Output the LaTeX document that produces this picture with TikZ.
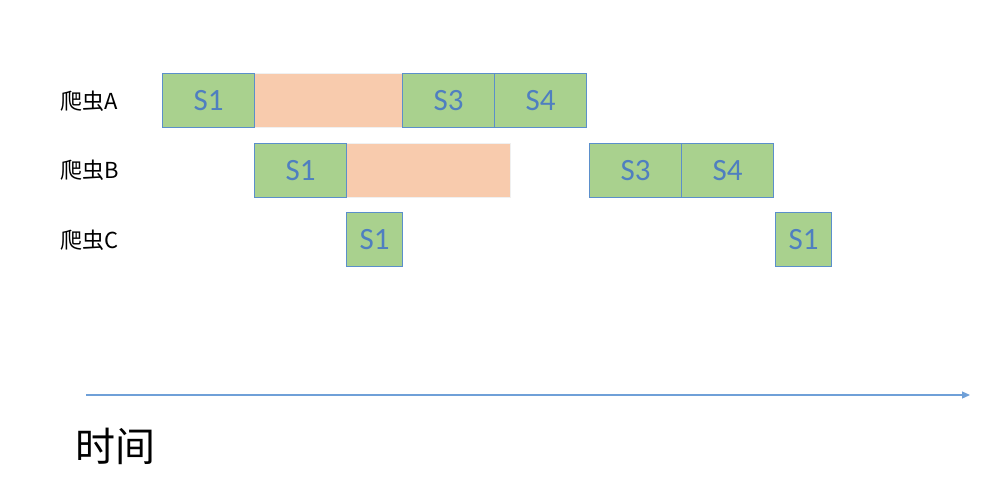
\documentclass[tikz,border=0pt]{standalone}
\usepackage{fontspec}
\setmainfont{Carlito}
\newfontfamily\cjk{Noto Sans CJK SC}
\usetikzlibrary{arrows.meta}
\definecolor{stagefill}{HTML}{A9D18E}
\definecolor{stageline}{HTML}{5B8FCB}
\definecolor{stagetext}{HTML}{4F7FC0}
\definecolor{waitfill}{HTML}{F8CBAD}
\definecolor{axisline}{HTML}{6FA0D8}
\tikzset{
	stage/.style={draw=stageline,fill=stagefill,text=stagetext,line width=1pt,inner sep=0pt,anchor=north west,minimum height=54pt,font=\fontsize{31}{31}\selectfont},
	wait/.style={fill=waitfill,draw=black!6,line width=0.8pt,inner sep=0pt,anchor=north west,minimum height=54pt},
	crawler/.style={anchor=west,font=\fontsize{22}{22}\selectfont\cjk},
}
\begin{document}
\begin{tikzpicture}[x=1pt,y=-1pt,>=stealth]
	\useasboundingbox (0,0) rectangle (1002,498);
	% crawler names
	\node[crawler] (nameA) at (57,101) {爬虫A};
	\node[crawler] (nameB) at (57,170) {爬虫B};
	\node[crawler] (nameC) at (57,240) {爬虫C};
	% crawler A
	\node[wait,minimum width=148pt] (waitA) at (254,73) {};
	\node[stage,minimum width=92pt] (a1) at (162,73) {S1};
	\node[stage,minimum width=92pt] (a3) at (402,73) {S3};
	\node[stage,minimum width=92pt] (a4) at (494,73) {S4};
	% crawler B
	\node[wait,minimum width=164pt] (waitB) at (346,143) {};
	\node[stage,minimum width=92pt] (b1) at (254,143) {S1};
	\node[stage,minimum width=92pt] (b3) at (589,143) {S3};
	\node[stage,minimum width=92pt] (b4) at (681,143) {S4};
	% crawler C
	\node[stage,minimum width=56pt] (c1) at (346,212) {S1};
	\node[stage,minimum width=56pt] (c2) at (775,212) {S1};
	% time axis
	\coordinate (t0) at (86,395);
	\coordinate (t1) at (970,395);
	\draw[-{Triangle[length=8pt,width=7pt]},axisline,line width=1.2pt] (t0) -- (t1);
	\node[anchor=west,font=\fontsize{40}{40}\selectfont\cjk] (time) at (72,446) {时间};
\end{tikzpicture}
\end{document}
